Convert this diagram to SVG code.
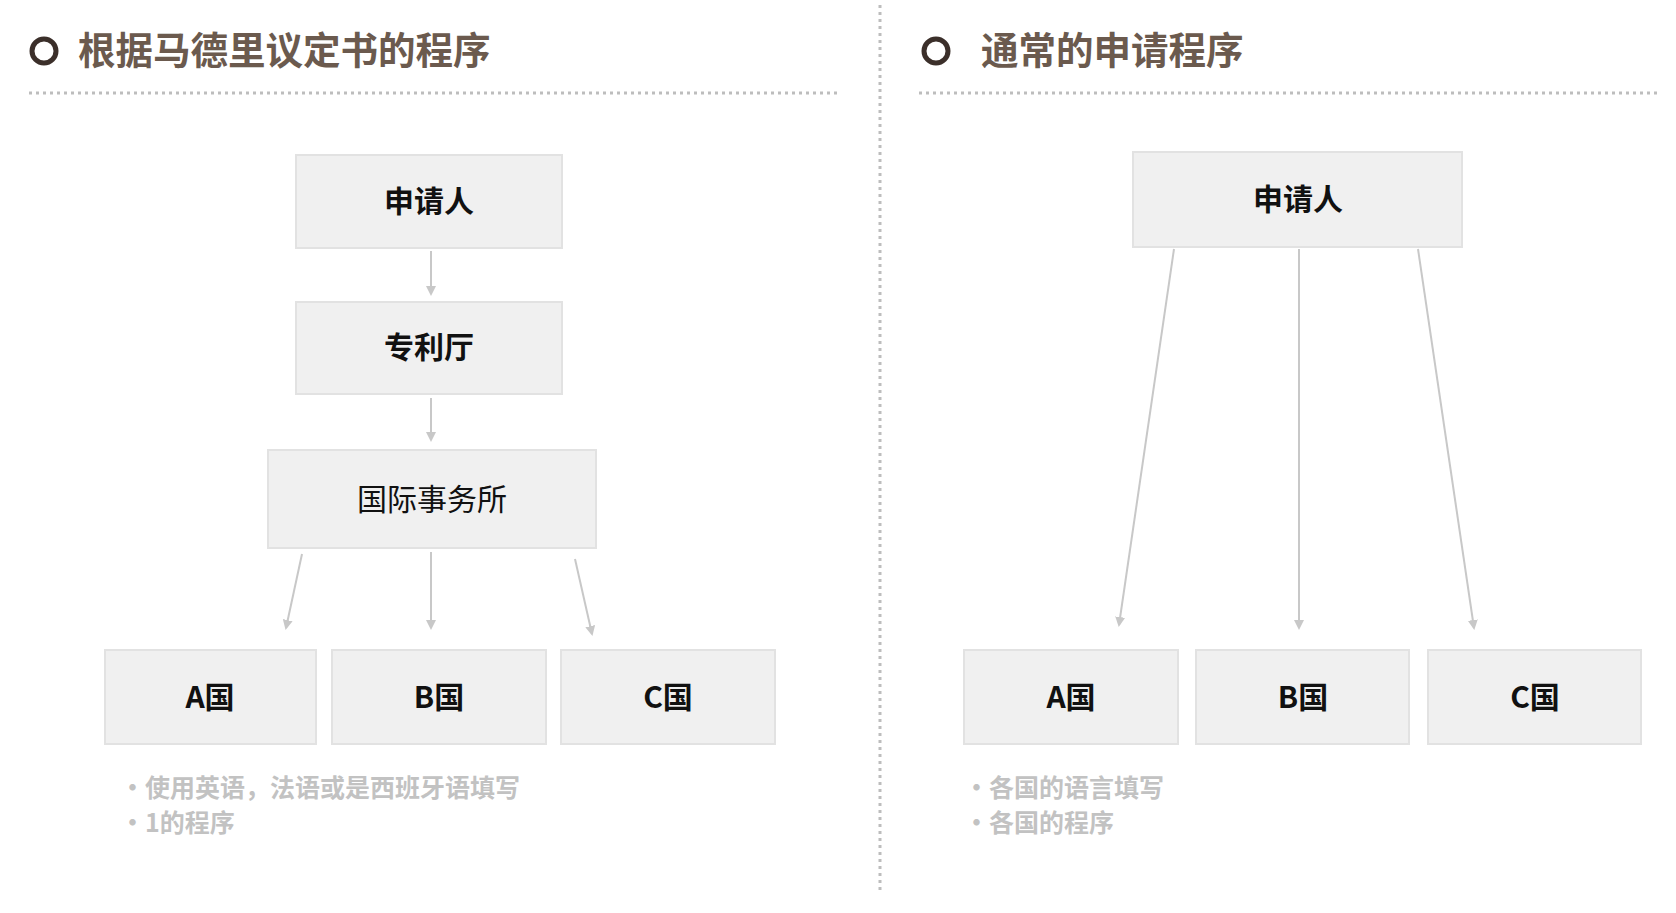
<svg xmlns="http://www.w3.org/2000/svg" width="1676" height="913" viewBox="0 0 1676 913">
<style>
.t{font-family:"Noto Sans CJK SC","Noto Sans",sans-serif;font-weight:700;font-size:37.5px;fill:#6b5a4e}
.ring{fill:none;stroke:#3b2f2a;stroke-width:5}
.dot{stroke:#bdbdbd;stroke-width:3;stroke-dasharray:3 4;fill:none}
.box{fill:#f0f0f0;stroke:#e2e2e2;stroke-width:2}
.bl{font-family:"Noto Sans CJK SC","Noto Sans",sans-serif;font-weight:700;font-size:30px;fill:#111;text-anchor:middle}
.rg{font-weight:400}
.c{stroke:#c8c8c8;stroke-width:2;fill:none;marker-end:url(#ah)}
.n{font-family:"Noto Sans CJK SC","Noto Sans",sans-serif;font-weight:700;font-size:25px;fill:#c2c2c2}
</style>
<defs><marker id="ah" markerWidth="10" markerHeight="10" refX="8" refY="5" orient="auto" markerUnits="userSpaceOnUse"><path d="M0,0 L10,5 L0,10 Z" fill="#c8c8c8"/></marker></defs>
<rect width="1676" height="913" fill="#fff"/>
<g id="header-left"><circle class="ring" cx="44" cy="51" r="12"/><text class="t" x="78" y="64">根据马德里议定书的程序</text><line class="dot" x1="29" y1="93" x2="837" y2="93"/></g>
<g id="header-right"><circle class="ring" cx="936" cy="51" r="12"/><text class="t" x="981" y="64">通常的申请程序</text><line class="dot" x1="919" y1="93" x2="1659" y2="93"/></g>
<line class="dot" x1="880" y1="5" x2="880" y2="893"/>
<g id="connectors">
<line class="c" x1="431" y1="251" x2="431" y2="294"/>
<line class="c" x1="431" y1="398" x2="431" y2="440"/>
<line class="c" x1="302" y1="554" x2="286" y2="628"/>
<line class="c" x1="431" y1="552" x2="431" y2="628"/>
<line class="c" x1="575" y1="559" x2="592" y2="634"/>
<line class="c" x1="1174" y1="249" x2="1119" y2="625"/>
<line class="c" x1="1299" y1="249" x2="1299" y2="628"/>
<line class="c" x1="1418" y1="249" x2="1474" y2="628"/>
</g>
<g id="l-applicant"><rect class="box" x="296" y="155" width="266" height="93"/><text class="bl" x="429" y="212">申请人</text></g>
<g id="l-office"><rect class="box" x="296" y="302" width="266" height="92"/><text class="bl" x="429" y="358">专利厅</text></g>
<g id="l-intl"><rect class="box" x="268" y="450" width="328" height="98"/><text class="bl rg" x="432" y="510">国际事务所</text></g>
<g id="l-a"><rect class="box" x="105" y="650" width="211" height="94"/><text class="bl" x="210" y="708">A国</text></g>
<g id="l-b"><rect class="box" x="332" y="650" width="214" height="94"/><text class="bl" x="439" y="708">B国</text></g>
<g id="l-c"><rect class="box" x="561" y="650" width="214" height="94"/><text class="bl" x="668" y="708">C国</text></g>
<g id="r-applicant"><rect class="box" x="1133" y="152" width="329" height="95"/><text class="bl" x="1298" y="210">申请人</text></g>
<g id="r-a"><rect class="box" x="964" y="650" width="214" height="94"/><text class="bl" x="1071" y="708">A国</text></g>
<g id="r-b"><rect class="box" x="1196" y="650" width="213" height="94"/><text class="bl" x="1303" y="708">B国</text></g>
<g id="r-c"><rect class="box" x="1428" y="650" width="213" height="94"/><text class="bl" x="1535" y="708">C国</text></g>
<g id="notes-left"><text class="n" x="120" y="797">・使用英语，法语或是西班牙语填写</text><text class="n" x="120" y="832">・1的程序</text></g>
<g id="notes-right"><text class="n" x="964" y="797">・各国的语言填写</text><text class="n" x="964" y="832">・各国的程序</text></g>
</svg>
